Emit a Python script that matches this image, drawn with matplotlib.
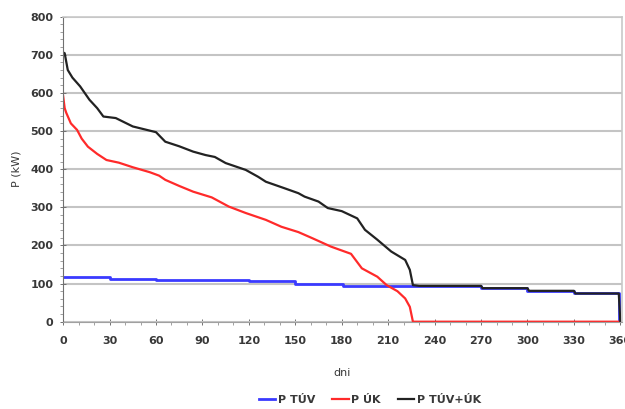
import matplotlib.pyplot as plt
from matplotlib.ticker import MultipleLocator

# Load duration curves (day, kW)
tuv_days = [0, 30, 60, 120, 150, 181, 270, 300, 330, 359]
tuv_vals = [118, 113, 110, 106, 100, 94, 88, 81, 74, 0]

uk_days = [0, 1, 2, 5, 9, 12, 16, 22, 28, 36, 45, 56, 62, 66, 75, 84, 96, 107,
           118, 131, 141, 152, 161, 173, 186, 193, 203, 209, 216, 221, 224, 226, 360]
uk_vals = [592, 560, 548, 520, 503, 480, 459, 440, 424, 417, 405, 392, 383, 372,
           356, 341, 326, 302, 285, 267, 249, 235, 219, 197, 178, 140, 118, 96,
           80, 61, 39, 0, 0]

tot_days = [0, 1, 3, 6, 11, 17, 22, 26, 34, 45, 54, 60, 66, 75, 84, 92, 98, 105,
            118, 126, 131, 143, 152, 156, 165, 171, 180, 190, 195, 203, 212, 221,
            224, 226, 230, 270, 271, 300, 301, 330, 331, 359, 360]
tot_vals = [706, 704, 660, 640, 617, 582, 560, 538, 534, 512, 503, 497, 472, 460,
            446, 437, 432, 416, 398, 380, 367, 350, 337, 328, 315, 298, 290, 271,
            241, 215, 184, 162, 136, 96, 94, 94, 88, 88, 81, 81, 74, 74, 0]

labels = ["P TÚV", "P ÚK", "P TÚV+ÚK"]

plt.rcParams.update({
    "font.family": "DejaVu Sans",
    "font.size": 8,
    "font.weight": "bold",
})

fig = plt.figure(figsize=(6.25, 4.09), dpi=100)
ax = fig.add_axes([0.101, 0.2134, 0.894, 0.746])

ax.plot(tuv_days, tuv_vals, drawstyle="steps-post", color="#3a3aff", lw=2, label=labels[0])
ax.plot(uk_days, uk_vals, color="#ff2a2a", lw=1.6, label=labels[1])
ax.plot(tot_days, tot_vals, color="#222222", lw=1.6, label=labels[2])

ax.set_xlim(0, 361)
ax.set_ylim(0, 800)
ax.xaxis.set_major_locator(MultipleLocator(30))
ax.xaxis.set_minor_locator(MultipleLocator(10))
ax.yaxis.set_major_locator(MultipleLocator(100))
ax.yaxis.set_minor_locator(MultipleLocator(20))

ax.yaxis.grid(True, color="#c4c4c4", lw=1.5)
ax.set_axisbelow(True)

for side in ["top", "right"]:
    ax.spines[side].set_color("#c8c8c8")
    ax.spines[side].set_linewidth(1.2)
ax.spines["left"].set_color("#707070")
ax.spines["bottom"].set_color("#a0a0a0")
for side in ["left", "bottom"]:
    ax.spines[side].set_linewidth(0.8)

ax.tick_params(which="major", direction="inout", length=5, width=0.7,
               color="#707070", labelcolor="#383838", labelsize=8)
ax.tick_params(which="minor", direction="out", length=2.5, width=0.6, color="#909090")
ax.tick_params(axis="x", pad=7.5)
ax.tick_params(axis="y", pad=4.5)

ax.set_xlabel("dni", fontsize=8, color="#383838", labelpad=16)
ax.set_ylabel("P (kW)", fontsize=8, color="#383838", labelpad=6)

ax.legend(loc="center", bbox_to_anchor=(0.549, -0.257), ncol=3, frameon=False,
          handlelength=1.5, handletextpad=0.25, columnspacing=1.5, fontsize=8,
          labelcolor="#383838")

fig.savefig("out.png", dpi=100)
